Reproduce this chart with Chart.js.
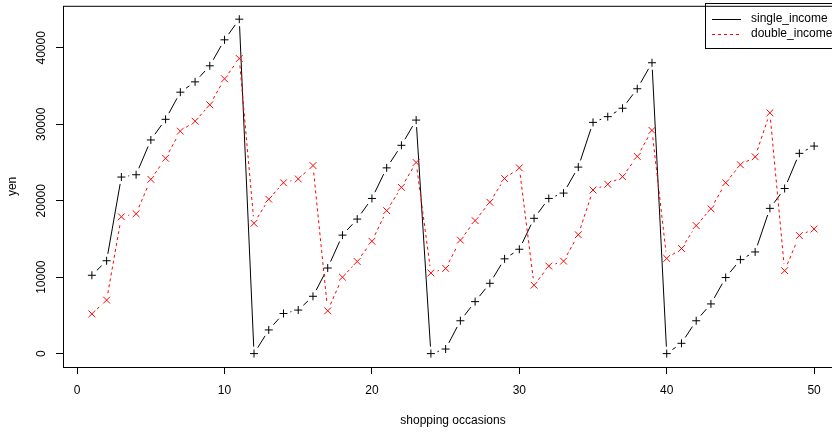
<!DOCTYPE html>
<html>
<head>
<meta charset="utf-8">
<script src="https://cdn.jsdelivr.net/npm/chart.js@4.4.0/dist/chart.umd.min.js"></script>
<style>
  html, body { margin: 0; padding: 0; background: #fff; overflow: hidden; }
  #wrap { width: 860px; height: 432px; }
</style>
</head>
<body>
<div id="wrap"><canvas id="spend" width="860" height="432"></canvas></div>
<script>
"use strict";

// cumulative spend per shopping occasion
const occasions = [1, 2, 3, 4, 5, 6, 7, 8, 9, 10,
  11, 12, 13, 14, 15, 16, 17, 18, 19, 20,
  21, 22, 23, 24, 25, 26, 27, 28, 29, 30,
  31, 32, 33, 34, 35, 36, 37, 38, 39, 40,
  41, 42, 43, 44, 45, 46, 47, 48, 49, 50];

const singleIncome = [10250, 12150, 23100, 23400, 27950, 30650, 34200, 35550, 37650, 41050,
  43750, 0, 3100, 5250, 5700, 7500, 11200, 15500, 17600, 20300,
  24300, 27250, 30550, 0, 600, 4300, 6800, 9200, 12400, 13650,
  17700, 20300, 21000, 24400, 30250, 31000, 32100, 34650, 38050, 0,
  1350, 4300, 6500, 9950, 12300, 13300, 19000, 21600, 26200, 27150];

const doubleIncome = [5200, 7000, 17900, 18300, 22800, 25550, 29100, 30400, 32550, 35950,
  38600, 17050, 20200, 22350, 22850, 24600, 5600, 10000, 12050, 14700,
  18700, 21750, 25000, 10550, 11150, 14850, 17400, 19800, 22900, 24300,
  8950, 11450, 12100, 15550, 21400, 22150, 23150, 25800, 29200, 12450,
  13750, 16750, 18950, 22350, 24700, 25750, 31500, 10850, 15450, 16300];

const xTicks = [0, 10, 20, 30, 40, 50];
const yTicks = [0, 10000, 20000, 30000, 40000];

const FONT = '12px "Liberation Sans", Arial, sans-serif';
const GAP = 7; // distance kept clear around each point, like type = "b"

Chart.defaults.font.family = '"Liberation Sans", Arial, sans-serif';
Chart.defaults.font.size = 12;
Chart.defaults.color = '#000';

const toPoints = (ys) => occasions.map((x, i) => ({ x: x, y: ys[i] }));

// line segments that stop short of the markers
const gappedLines = {
  id: 'gappedLines',
  beforeDatasetsDraw(chart) {
    const ctx = chart.ctx, area = chart.chartArea;
    ctx.save();
    ctx.beginPath();
    ctx.rect(area.left, area.top, area.right - area.left, area.bottom - area.top);
    ctx.clip();
    chart.data.datasets.forEach((ds, i) => {
      const pts = chart.getDatasetMeta(i).data;
      ctx.strokeStyle = ds.borderColor;
      ctx.lineWidth = 1;
      ctx.setLineDash(ds.borderDash || []);
      for (let k = 1; k < pts.length; k++) {
        const a = pts[k - 1], b = pts[k];
        const dx = b.x - a.x, dy = b.y - a.y;
        const f = GAP / Math.hypot(dx, dy);
        if (f > 0.5) continue;
        ctx.beginPath();
        ctx.moveTo(a.x + f * dx, a.y + f * dy);
        ctx.lineTo(b.x - f * dx, b.y - f * dy);
        ctx.stroke();
      }
    });
    ctx.restore();
  }
};

// box, rotated y labels and the legend
const frame = {
  id: 'frame',
  afterDraw(chart) {
    const ctx = chart.ctx, area = chart.chartArea;
    const xs = chart.scales.x, ys = chart.scales.y;
    ctx.save();
    ctx.strokeStyle = '#000';
    ctx.lineWidth = 1;
    ctx.setLineDash([]);
    ctx.strokeRect(area.left + 0.5, area.top + 0.5, area.right - area.left, area.bottom - area.top);

    // x axis line between first and last tick
    ctx.beginPath();
    ctx.moveTo(xs.getPixelForValue(xTicks[0]), area.bottom + 0.5);
    ctx.lineTo(xs.getPixelForValue(xTicks[xTicks.length - 1]), area.bottom + 0.5);
    ctx.stroke();
    // y axis line
    ctx.beginPath();
    ctx.moveTo(area.left + 0.5, ys.getPixelForValue(yTicks[0]));
    ctx.lineTo(area.left + 0.5, ys.getPixelForValue(yTicks[yTicks.length - 1]));
    ctx.stroke();

    ctx.fillStyle = '#000';
    ctx.font = FONT;
    ctx.textAlign = 'center';
    ctx.textBaseline = 'middle';
    yTicks.forEach(v => {
      ctx.save();
      ctx.translate(42, ys.getPixelForValue(v));
      ctx.rotate(-Math.PI / 2);
      ctx.fillText(String(v), 0, 0);
      ctx.restore();
    });

    // legend, top right of the plot
    const lx = 705, ly = 3;
    ctx.strokeRect(lx + 0.5, ly + 0.5, area.right - lx, 45);
    ctx.textAlign = 'left';
    chart.data.datasets.forEach((ds, i) => {
      const y = 19 + i * 15;
      ctx.strokeStyle = ds.borderColor;
      ctx.setLineDash(ds.borderDash || []);
      ctx.beginPath();
      ctx.moveTo(712, y + 0.5);
      ctx.lineTo(741, y + 0.5);
      ctx.stroke();
      ctx.fillText(ds.label, 751, y);
    });
    ctx.restore();
  }
};

new Chart(document.getElementById('spend'), {
  type: 'scatter',
  data: {
    datasets: [{
      label: 'single_income',
      data: toPoints(singleIncome),
      showLine: false,
      borderColor: '#000000',
      pointStyle: 'cross',
      pointRadius: 4,
      pointBorderColor: '#000000',
      pointBorderWidth: 1
    }, {
      label: 'double_income',
      data: toPoints(doubleIncome),
      showLine: false,
      borderColor: '#ff0000',
      borderDash: [3, 3],
      pointStyle: 'crossRot',
      pointRadius: 4.8,
      pointBorderColor: '#ff0000',
      pointBorderWidth: 1
    }]
  },
  plugins: [gappedLines, frame],
  options: {
    responsive: false,
    animation: false,
    devicePixelRatio: 1,
    events: [],
    layout: { padding: { top: 3, right: 17, left: 0, bottom: 0 } },
    plugins: {
      legend: { display: false },
      tooltip: { enabled: false }
    },
    scales: {
      x: {
        type: 'linear',
        min: -0.96,
        max: 51.96,
        afterBuildTicks: s => { s.ticks = xTicks.map(v => ({ value: v })); },
        afterFit: s => { s.height = 65; },
        border: { display: false },
        grid: { drawOnChartArea: false, drawTicks: true, tickLength: 7, color: '#000' },
        ticks: { padding: 9, maxRotation: 0, autoSkip: false, color: '#000' },
        title: { display: true, text: 'shopping occasions', padding: { top: 0, bottom: 4 } }
      },
      y: {
        type: 'linear',
        min: -1750,
        max: 45500,
        afterBuildTicks: s => { s.ticks = yTicks.map(v => ({ value: v })); },
        afterFit: s => { s.width = 63; },
        border: { display: false },
        grid: { drawOnChartArea: false, drawTicks: true, tickLength: 7, color: '#000' },
        ticks: { display: false },
        title: { display: true, text: 'yen', padding: { top: 5, bottom: 0 } }
      }
    }
  }
});
</script>
</body>
</html>
